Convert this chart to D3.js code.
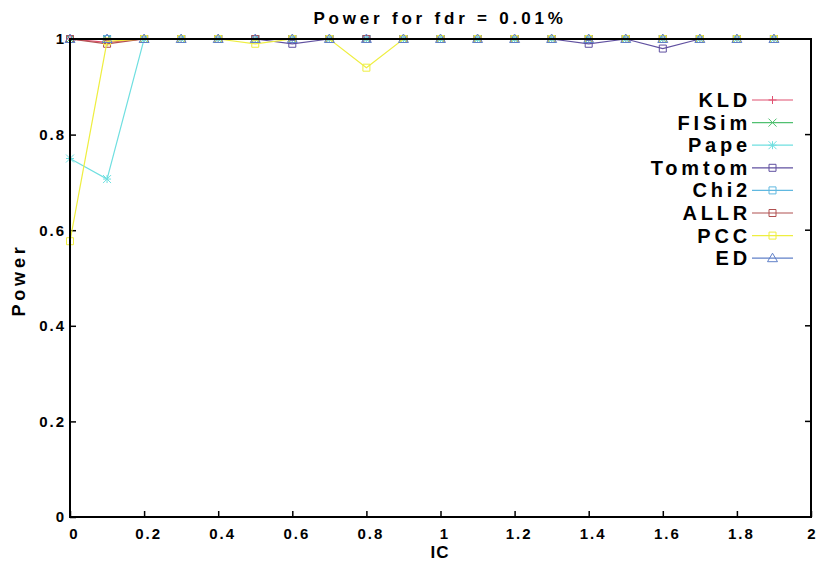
<!DOCTYPE html>
<html>
<head>
<script src="https://cdn.jsdelivr.net/npm/d3@7"></script>
<style>
  body { margin: 0; background: #fff; }
  text { font-family: "Liberation Sans", Arial, sans-serif; font-weight: bold; fill: #000; }
</style>
</head>
<body>
<svg id="chart" width="816" height="561"></svg>
<script>
// x values (IC)
var ic = [0, 0.1, 0.2, 0.3, 0.4, 0.5, 0.6, 0.7, 0.8, 0.9, 1.0, 1.1, 1.2, 1.3, 1.4, 1.5, 1.6, 1.7, 1.8, 1.9];

// power per method
var kld    = [1, 0.993, 1, 1, 1, 1, 1, 1, 1, 1, 1, 1, 1, 1, 1, 1, 1, 1, 1, 1];
var fisim  = [1, 1, 1, 1, 1, 1, 1, 1, 1, 1, 1, 1, 1, 1, 1, 1, 1, 1, 1, 1];
var pape   = [0.75, 0.707, 1, 1, 1, 1, 1, 1, 1, 1, 1, 1, 1, 1, 1, 1, 1, 1, 1, 1];
var tomtom = [1, 1, 1, 1, 1, 1, 0.99, 1, 1, 1, 1, 1, 1, 1, 0.99, 1, 0.98, 1, 1, 1];
var chi2   = [1, 1, 1, 1, 1, 1, 1, 1, 1, 1, 1, 1, 1, 1, 1, 1, 1, 1, 1, 1];
var allr   = [1, 0.99, 1, 1, 1, 1, 1, 1, 1, 1, 1, 1, 1, 1, 1, 1, 1, 1, 1, 1];
var pcc    = [0.577, 0.995, 1, 1, 1, 0.99, 1, 1, 0.94, 1, 1, 1, 1, 1, 1, 1, 1, 1, 1, 1];
var ed     = [1, 1, 1, 1, 1, 1, 1, 1, 1, 1, 1, 1, 1, 1, 1, 1, 1, 1, 1, 1];

var names  = ["KLD", "FISim", "Pape", "Tomtom", "Chi2", "ALLR", "PCC", "ED"];
var values = [kld, fisim, pape, tomtom, chi2, allr, pcc, ed];
var colors = ["#e05070", "#50c070", "#6fdfe0", "#6050a0", "#60b8e0", "#b05050", "#eeee40", "#6080c8"];
var marks  = ["plus", "cross", "star", "square", "square", "square", "square", "triangle"];

var xTicks = [0, 0.2, 0.4, 0.6, 0.8, 1, 1.2, 1.4, 1.6, 1.8, 2];
var yTicks = [0, 0.2, 0.4, 0.6, 0.8, 1];

var pLeft = 70, pRight = 811, pTop = 39, pBottom = 517;

var svg = d3.select("#chart");
var x = d3.scaleLinear().domain([0, 2]).range([pLeft, pRight]);
var y = d3.scaleLinear().domain([0, 1]).range([pBottom, pTop]);

function marker(type) {
  var s = 4;
  if (type == "plus") return "M" + (-s) + ",0H" + s + "M0," + (-s) + "V" + s;
  if (type == "cross") return "M" + (-s) + "," + (-s) + "L" + s + "," + s + "M" + (-s) + "," + s + "L" + s + "," + (-s);
  if (type == "star") return marker("plus") + marker("cross");
  if (type == "square") return "M-3.5,-3.5H3.5V3.5H-3.5Z";
  return "M0,-5L5,3.5H-5Z";
}

// axes
var xAxis = d3.axisBottom(x).tickValues(xTicks).tickSize(-6).tickPadding(11).tickFormat(d3.format("~g"));
var yAxis = d3.axisLeft(y).tickValues(yTicks).tickSize(-6).tickPadding(6).tickFormat(d3.format("~g"));

var gx = svg.append("g").attr("transform", "translate(0," + pBottom + ")").call(xAxis);
gx.select(".domain").remove();
gx.selectAll("line").attr("stroke", "#000").attr("stroke-width", 1.5);
gx.selectAll("text").attr("dx", function(d) { return d == 2 ? 1 : 4; })
  .style("font-family", "'Liberation Sans', Arial, sans-serif")
  .style("font-weight", "bold").style("font-size", "15px").style("letter-spacing", "2px");

var gy = svg.append("g").attr("transform", "translate(" + pLeft + ",0)").call(yAxis);
gy.select(".domain").remove();
gy.selectAll("line").attr("stroke", "#000").attr("stroke-width", 1.5);
gy.selectAll("text").attr("dx", 2).style("font-family", "'Liberation Sans', Arial, sans-serif")
  .style("font-weight", "bold").style("font-size", "15px").style("letter-spacing", "2px");

// mirrored ticks on the right
svg.append("g").selectAll("line").data(yTicks).enter().append("line")
  .attr("x1", pRight).attr("x2", pRight - 6)
  .attr("y1", function(d) { return y(d); }).attr("y2", function(d) { return y(d); })
  .attr("stroke", "#000").attr("stroke-width", 1.5);

// series
var line = d3.line().x(function(d, i) { return x(ic[i]); }).y(function(d) { return y(d); });

for (var k = 0; k < names.length; k++) {
  var g = svg.append("g");
  g.append("path").datum(values[k]).attr("d", line)
    .attr("fill", "none").attr("stroke", colors[k]).attr("stroke-width", 1.2);
  g.selectAll("path.pt").data(values[k]).enter().append("path")
    .attr("class", "pt")
    .attr("transform", function(d, i) { return "translate(" + x(ic[i]) + "," + y(d) + ")"; })
    .attr("d", marker(marks[k]))
    .attr("fill", "none").attr("stroke", colors[k]).attr("stroke-width", 1);
}

// border
svg.append("rect").attr("x", pLeft).attr("y", pTop)
  .attr("width", pRight - pLeft).attr("height", pBottom - pTop)
  .attr("fill", "none").attr("stroke", "#000").attr("stroke-width", 2);

// legend
var leg = svg.append("g").selectAll("g").data(names).enter().append("g")
  .attr("transform", function(d, i) { return "translate(0," + (100 + i * 22.6) + ")"; });
leg.append("text").attr("x", 751).attr("y", 7).attr("text-anchor", "end")
  .style("font-size", "20px").style("letter-spacing", "3.8px")
  .text(function(d) { return d; });
leg.append("line").attr("x1", 752).attr("x2", 793)
  .attr("stroke", function(d, i) { return colors[i]; }).attr("stroke-width", 1.2);
leg.append("path").attr("transform", "translate(772.5,0)")
  .attr("d", function(d, i) { return marker(marks[i]); })
  .attr("fill", "none").attr("stroke", function(d, i) { return colors[i]; });

// title and labels
svg.append("text").attr("x", 440).attr("y", 24).attr("text-anchor", "middle")
  .style("font-size", "17px").style("letter-spacing", "3.8px").text("Power for fdr = 0.01%");
svg.append("text").attr("transform", "translate(25,280) rotate(-90)").attr("text-anchor", "middle")
  .style("font-size", "18px").style("letter-spacing", "3.8px").text("Power");
svg.append("text").attr("x", 440).attr("y", 558).attr("text-anchor", "middle")
  .style("font-size", "17px").style("letter-spacing", "1px").text("IC");
</script>
</body>
</html>
